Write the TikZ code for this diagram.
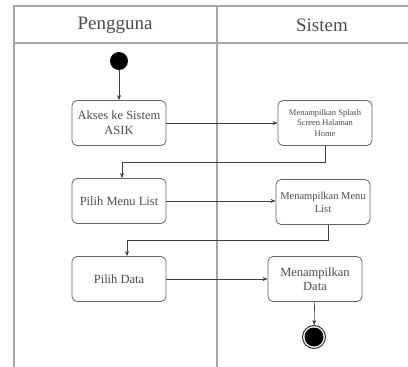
\documentclass[tikz,border=0pt]{standalone}
\usepackage{fontspec}
\setmainfont{Liberation Serif}
\usetikzlibrary{arrows.meta}
\begin{document}
\begin{tikzpicture}[x=1pt,y=-1pt,
  lane/.style={draw=black!35,line width=1.6pt},
  act/.style={draw=black!60,line width=0.8pt,rounded corners=5pt,fill=white,
    minimum width=94pt,minimum height=45pt,align=center,inner sep=2pt,text=black!70},
  flow/.style={draw=black!75,line width=0.6pt,-{Stealth[length=5pt,width=4pt]}},
  head/.style={font=\fontsize{19}{21}\selectfont,text=black!70}]
\useasboundingbox (0,0) rectangle (408,367);
% swimlane frame
\draw[lane] (14,367) -- (14,6) -- (408,6);
\draw[lane] (14,43) -- (408,43);
\draw[lane] (217,6) -- (217,367);
\node[head] (h1) at (115,25) {Pengguna};
\node[head] (h2) at (322,25) {Sistem};
% start / end
\node[circle,fill=black,inner sep=0pt,minimum size=18pt] (start) at (119,61) {};
\node[circle,draw=black!80,line width=1pt,inner sep=0pt,minimum size=23pt] (stop) at (314,337) {};
\fill[black] (stop.center) circle (9.5pt);
% activities
\node[act,font=\fontsize{12.5}{15}\selectfont] (a1) at (119,123) {Akses ke Sistem\\ASIK};
\node[act,font=\fontsize{8.5}{10.5}\selectfont] (a2) at (325,123) {Menampilkan Splash\\Screen Halaman\\Home};
\node[act,font=\fontsize{12.5}{15}\selectfont] (a3) at (119,201) {Pilih Menu List};
\node[act,font=\fontsize{10.5}{13}\selectfont] (a4) at (323,202) {Menampilkan Menu\\List};
\node[act,font=\fontsize{12.5}{14}\selectfont] (a5) at (119,279) {Pilih Data};
\node[act,font=\fontsize{12.5}{14}\selectfont] (a6) at (315,279) {Menampilkan\\Data};
% transitions
\draw[flow] (start) -- (a1);
\draw[flow] (a1) -- (a2);
\draw[flow] (a2.south) -- ++(0,16) -| ([xshift=3pt]a3.north);
\draw[flow] (a3) -- (a4.west |- a3);
\draw[flow] ([xshift=5pt]a4.south) -- ++(0,15) -| ([xshift=8pt]a5.north);
\draw[flow] (a5) -- (a6.west |- a5);
\draw[flow] (a6) -- (stop);
\end{tikzpicture}
\end{document}
